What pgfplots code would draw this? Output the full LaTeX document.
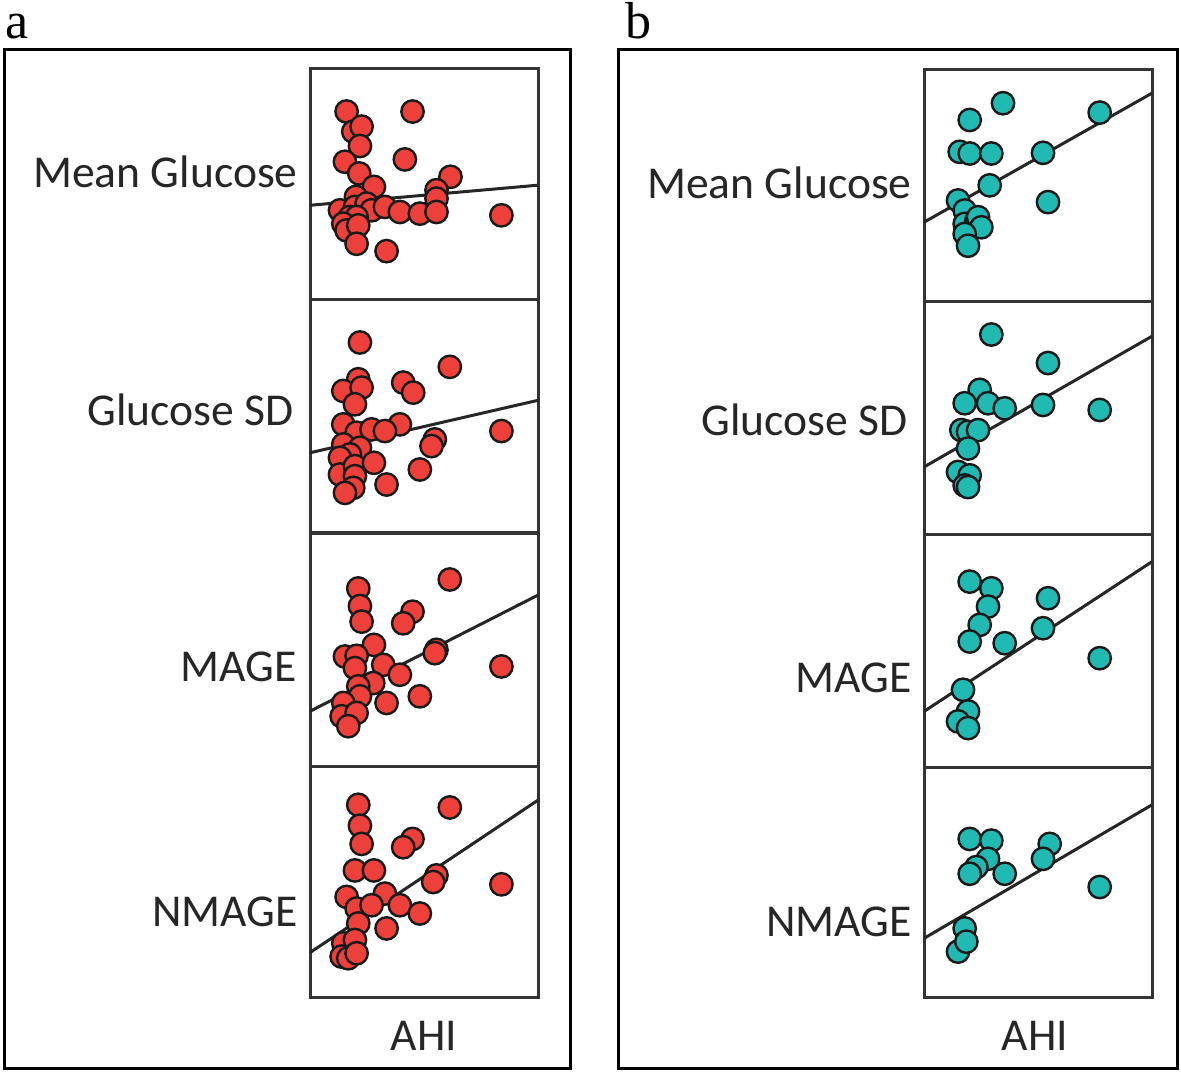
\documentclass[border=0pt]{standalone}
\usepackage{fontspec}
\setmainfont{Carlito}
\newfontfamily\seriffont{Liberation Serif}
\usepackage{pgfplots}
\pgfplotsset{compat=1.18}
\definecolor{redc}{RGB}{238,64,58}
\definecolor{tealc}{RGB}{32,186,178}
\pgfplotsset{
  panel/.style={scale only axis, width=114pt, anchor=north west, ticks=none,
    y dir=reverse, axis line style={line width=1.5pt, black!80}, clip=false},
  pa/.style={panel, xmin=30, xmax=715},
  pb/.style={panel, xmin=28, xmax=712},
  redpts/.style={only marks, mark=*, mark size=5.6pt, mark options={fill=redc, draw=black!90, line width=1.2pt}},
  tealpts/.style={only marks, mark=*, mark size=5.6pt, mark options={fill=tealc, draw=black!90, line width=1.2pt}},
  reg/.style={no marks, black!85, line width=1.5pt},
}
\begin{document}
\begin{tikzpicture}
% bounding box in pixel units
\begin{scope}[x=0.5pt,y=-0.5pt]
  \path (0,0) rectangle (1181,1072);
  \draw[line width=1.5pt] (4,49) rectangle (570,1068);
  \draw[line width=1.5pt] (618,49) rectangle (1177,1068);
  \node[font=\seriffont\fontsize{26}{30}\selectfont, anchor=base west, inner sep=0pt] at (5,38) {a};
  \node[font=\seriffont\fontsize{26}{30}\selectfont, anchor=base west, inner sep=0pt] at (625,38) {b};
  \begin{scope}[every node/.style={font=\fontsize{22.8}{26}\selectfont, inner sep=0pt, text=black!85}]
    \node[anchor=east] at (298,172) {Mean Glucose};
    \node[anchor=east] at (294,410) {Glucose SD};
    \node[anchor=east] at (297,667) {MAGE};
    \node[anchor=east] at (298,912) {NMAGE};
    \node at (424,1036) {AHI};
    \node[anchor=east] at (912,183) {Mean Glucose};
    \node[anchor=east] at (908,420) {Glucose SD};
    \node[anchor=east] at (912,678) {MAGE};
    \node[anchor=east] at (912,922) {NMAGE};
    \node at (1035,1036) {AHI};
  \end{scope}
\end{scope}

% ---------- panel a ----------
\begin{axis}[pa, at={(155pt,-34pt)}, height=115.5pt, ymin=25, ymax=715]
\addplot[redpts] coordinates {(140,155) (338,155) (160,215) (185,200) (180,258) (315,298) (135,305) (178,340) (452,350) (222,380) (410,390) (410,415) (120,450) (168,410) (165,440) (200,430) (215,450) (255,440) (300,455) (360,460) (410,455) (605,465) (150,470) (170,470) (130,490) (140,510) (175,495) (170,550) (260,572)};
\addplot[reg] coordinates {(30,435) (715,375)};
\end{axis}
\begin{axis}[pa, at={(155pt,-149.5pt)}, height=117pt, ymin=15, ymax=715]
\addplot[redpts] coordinates {(180,145) (450,218) (175,255) (130,290) (185,280) (310,265) (340,295) (165,330) (130,390) (300,390) (170,415) (215,405) (255,410) (405,435) (395,455) (605,410) (130,450) (180,460) (150,480) (120,490) (120,540) (165,515) (222,505) (165,545) (260,570) (360,525) (160,580) (135,595)};
\addplot[reg] coordinates {(30,475) (715,318)};
\end{axis}
\begin{axis}[pa, at={(155pt,-266.5pt)}, height=116.5pt, ymin=8, ymax=710]
\addplot[redpts] coordinates {(175,175) (450,148) (180,228) (185,275) (338,245) (310,280) (222,345) (135,380) (170,378) (165,415) (250,405) (300,435) (410,360) (405,370) (605,410) (220,460) (175,470) (180,500) (130,520) (260,520) (360,500) (125,560) (170,550) (145,590)};
\addplot[reg] coordinates {(30,545) (715,195)};
\end{axis}
\begin{axis}[pa, at={(155pt,-383pt)}, height=115.5pt, ymin=15, ymax=712]
\addplot[redpts] coordinates {(175,132) (450,140) (180,195) (185,250) (338,235) (310,260) (165,330) (222,330) (140,410) (255,400) (170,445) (215,435) (300,435) (360,460) (410,345) (400,365) (605,372) (175,490) (260,505) (130,550) (165,540) (125,590) (145,595) (170,580)};
\addplot[reg] coordinates {(30,578) (715,118)};
\end{axis}

% ---------- panel b ----------
\begin{axis}[pb, at={(462pt,-34.5pt)}, height=116pt, ymin=28, ymax=720]
\addplot[tealpts] coordinates {(265,130) (165,180) (555,158) (135,275) (165,280) (230,280) (385,278) (225,375) (130,420) (400,425) (150,450) (150,490) (185,480) (190,470) (200,500) (150,520) (160,555)};
\addplot[reg] coordinates {(28,485) (712,100)};
\end{axis}
\begin{axis}[pb, at={(462pt,-150.5pt)}, height=116.5pt, ymin=20, ymax=715]
\addplot[tealpts] coordinates {(230,120) (400,205) (195,285) (150,325) (220,325) (270,340) (385,330) (555,345) (140,405) (160,410) (190,405) (160,460) (130,530) (165,540) (150,570) (160,575)};
\addplot[reg] coordinates {(28,515) (712,125)};
\end{axis}
\begin{axis}[pb, at={(462pt,-267pt)}, height=116.5pt, ymin=12, ymax=712]
\addplot[tealpts] coordinates {(165,155) (230,175) (220,230) (400,205) (195,285) (165,335) (270,340) (385,295) (555,385) (145,480) (160,545) (130,575) (160,595)};
\addplot[reg] coordinates {(28,545) (712,95)};
\end{axis}
\begin{axis}[pb, at={(462pt,-383.5pt)}, height=115pt, ymin=18, ymax=712]
\addplot[tealpts] coordinates {(165,235) (230,240) (405,250) (220,295) (385,295) (185,320) (165,340) (270,340) (555,380) (150,505) (130,575) (155,545)};
\addplot[reg] coordinates {(28,535) (712,132)};
\end{axis}
\end{tikzpicture}
\end{document}
